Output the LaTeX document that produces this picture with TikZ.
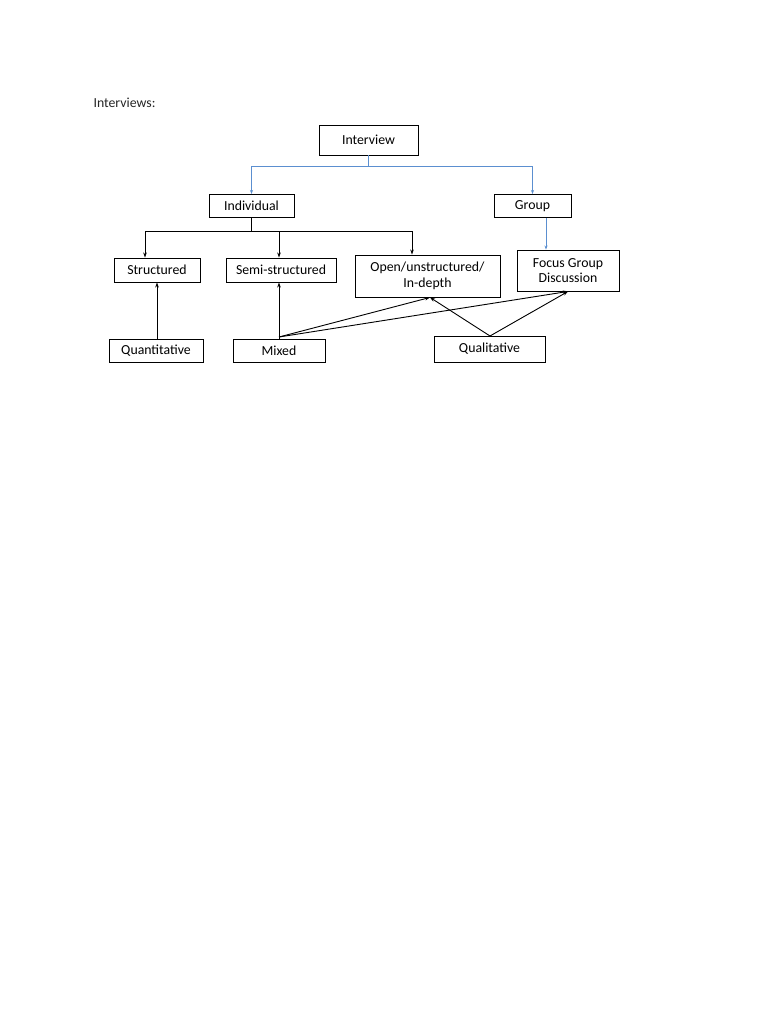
\documentclass[tikz,border=0pt]{standalone}
\usepackage{fontspec}
\setmainfont{Carlito}
\usetikzlibrary{arrows.meta}
\definecolor{lblue}{HTML}{5B8FD0}
\begin{document}
\begin{tikzpicture}[x=1pt,y=-1pt,
  box/.style={draw,line width=0.9pt,inner sep=0pt,align=center,font=\fontsize{13.8}{15.5}\selectfont},
  bl/.style={line width=0.9pt,-{Stealth[length=5pt,width=3.5pt]}},
  bu/.style={lblue,line width=0.8pt,-{Stealth[length=4pt,width=3pt]}}]
\useasboundingbox[fill=white] (0,0) rectangle (768,1024);
\node[anchor=west,font=\fontsize{13.8}{15.5}\selectfont,text=black!85] (title) at (90,103) {Interviews:};
\node[box,minimum width=99,minimum height=30] (interview) at (368.5,140) {Interview};
\node[box,minimum width=85,minimum height=23] (individual) at (251.5,206) {Individual};
\node[box,minimum width=77,minimum height=23] (group) at (532.5,206) {Group};
\node[box,minimum width=86,minimum height=24] (structured) at (157,270) {Structured};
\node[box,minimum width=110,minimum height=24] (semi) at (281,270) {Semi-structured};
\node[box,minimum width=145,minimum height=42] (open) at (427.5,276) {Open/unstructured/\\In-depth};
\node[box,minimum width=102,minimum height=41] (focus) at (568,270.5) {Focus Group\\Discussion};
\node[box,minimum width=94,minimum height=23] (quant) at (156,350.5) {Quantitative};
\node[box,minimum width=92,minimum height=23] (mixed) at (279,350.5) {Mixed};
\node[box,minimum width=111,minimum height=26] (qual) at (489.5,349) {Qualitative};
% blue tree
\coordinate (bj) at (368.5,166);
\draw[lblue,line width=0.8pt] (interview.south) -- (bj);
\draw[bu] (bj) -| (individual.north);
\draw[bu] (bj) -| (group.north);
\draw[bu] (group.south -| 546,0) -- (focus.north -| 546,0);
% black tree
\coordinate (kj) at (251.5,231);
\draw[line width=0.9pt] (individual.south) -- (kj);
\draw[bl] (kj) -| (structured.north -| 145,0);
\draw[bl] (kj) -| (semi.north -| 279,0);
\draw[bl] (kj) -| (open.north -| 412,0);
% bottom arrows
\coordinate (mx) at (279,337);
\coordinate (ql) at (490,336);
\draw[bl] (quant.north -| 157,0) -- (structured.south -| 157,0);
\draw[bl] (mixed.north) -- (semi.south -| 279,0);
\draw[bl] (mx) -- (open.south -| 430,0);
\draw[bl] (mx) -- (focus.south -| 568,0);
\draw[bl] (ql) -- (open.south -| 430,0);
\draw[bl] (ql) -- (focus.south -| 568,0);
\end{tikzpicture}
\end{document}
